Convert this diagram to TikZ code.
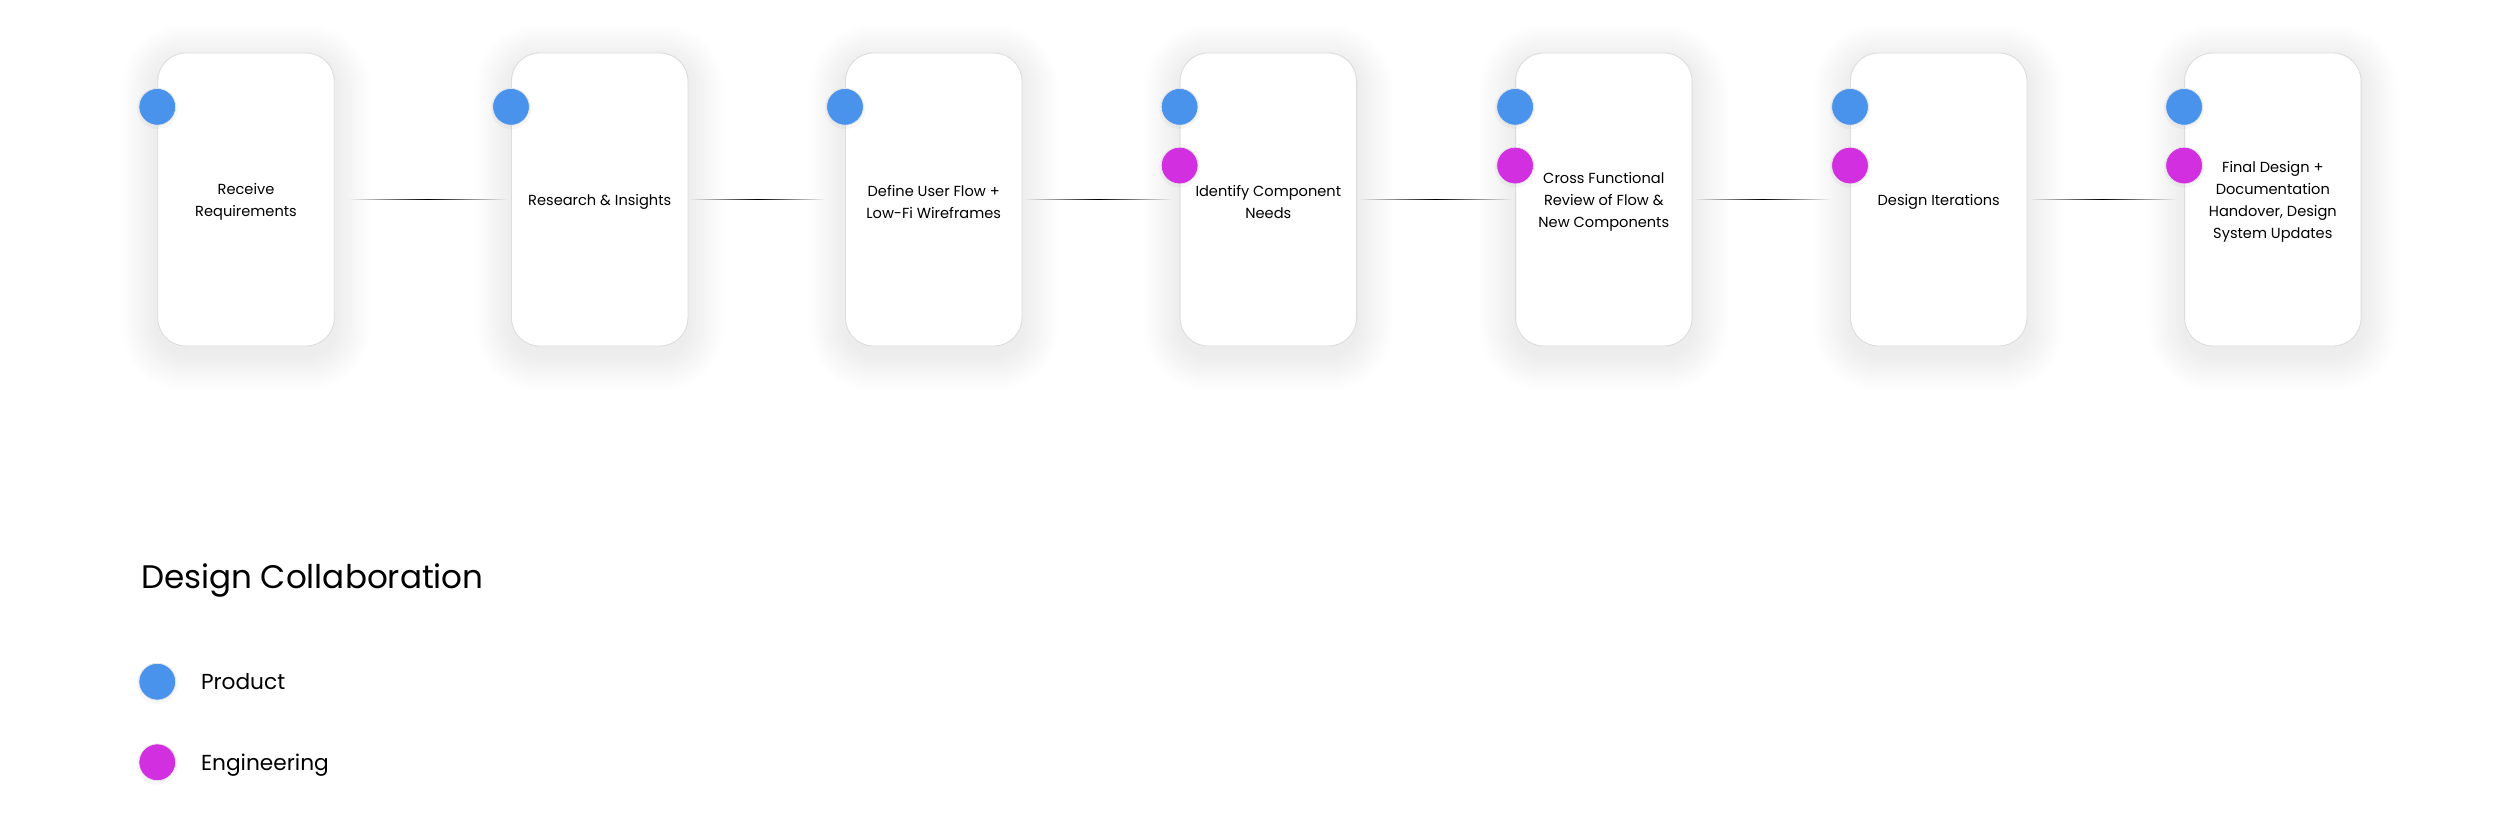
\documentclass[tikz,border=0pt]{standalone}
\usepackage{fontspec}
\setmainfont{Poppins}
\usetikzlibrary{calc,fadings}
\definecolor{prodblue}{HTML}{4A93EC}
\definecolor{engmag}{HTML}{D22FE0}
\definecolor{cardline}{HTML}{DCDCDC}
\pgfdeclarelayer{back}
\pgfdeclarelayer{shadowlayer}
\pgfsetlayers{back,shadowlayer,main}
\tikzfading[name=fadeends, left color=transparent!100, right color=transparent!100, middle color=transparent!0]
\tikzset{
  card/.style={rectangle, rounded corners=28pt, minimum width=176.5pt, minimum height=293pt,
    fill=white, draw=cardline, line width=0.9pt, inner sep=0pt},
  cardtext/.style={align=center, inner sep=0pt, font=\fontsize{14.6}{22}\selectfont},
  dotbase/.style={circle, minimum size=36.7pt, inner sep=0pt, draw=black!9, line width=0.7pt},
  pdot/.style={dotbase, fill=prodblue},
  edot/.style={dotbase, fill=engmag},
  connector/.style={fill=black, path fading=fadeends},
  shadowpiece/.style={fill=black, opacity=0.0058},
  dotshadow/.style={fill=black, opacity=0.03},
  legendtext/.style={anchor=base west, inner sep=0pt, font=\fontsize{21.7}{26}\selectfont},
  titletext/.style={anchor=base west, inner sep=0pt, font=\fontsize{32.6}{40}\selectfont}
}
\begin{document}
\begin{tikzpicture}[x=1pt,y=-1pt]
\begin{pgfonlayer}{back}
\fill[white] (0,0) rectangle (2500,834);
\end{pgfonlayer}
\useasboundingbox (0,0) rectangle (2500,834);

\node[card] (c1) at (246,199.5) {};
\node[card] (c2) at (599.7,199.5) {};
\node[card] (c3) at (933.7,199.5) {};
\node[card] (c4) at (1268.3,199.5) {};
\node[card] (c5) at (1603.8,199.5) {};
\node[card] (c6) at (1938.7,199.5) {};
\node[card] (c7) at (2272.8,199.5) {};

\node[cardtext] (t1) at ($(c1.center)+(0,2)$) {Receive\\Requirements};
\node[cardtext] (t2) at ($(c2.center)+(0,2)$) {Research \& Insights};
\node[cardtext] (t3) at ($(c3.center)+(0,2)$) {Define User Flow +\\Low-Fi Wireframes};
\node[cardtext] (t4) at ($(c4.center)+(0,2)$) {Identify Component\\Needs};
\node[cardtext] (t5) at ($(c5.center)+(0,2)$) {Cross Functional\\Review of Flow \&\\New Components};
\node[cardtext] (t6) at ($(c6.center)+(0,2)$) {Design Iterations};
\node[cardtext] (t7) at ($(c7.center)+(0,2)$) {Final Design +\\Documentation\\Handover, Design\\System Updates};

\begin{pgfonlayer}{shadowlayer}
\foreach \i in {1,...,7}{
  \foreach \k in {1,...,18}{
    \fill[shadowpiece, rounded corners={28pt+2pt*\k}]
      ($(c\i.north west)+(-2*\k,-2*\k+8)$) rectangle ($(c\i.south east)+(2*\k,2*\k+8)$);
  }
}
\end{pgfonlayer}

\fill[connector] ($(c1.east)+(14,-0.9)$) rectangle ($(c2.west)+(-4,0.9)$);
\fill[connector] ($(c2.east)+(2,-0.9)$) rectangle ($(c3.west)+(-20,0.9)$);
\fill[connector] ($(c3.east)+(2,-0.9)$) rectangle ($(c4.west)+(-8,0.9)$);
\fill[connector] ($(c4.east)+(2,-0.9)$) rectangle ($(c5.west)+(-3,0.9)$);
\fill[connector] ($(c5.east)+(2,-0.9)$) rectangle ($(c6.west)+(-20,0.9)$);
\fill[connector] ($(c6.east)+(2,-0.9)$) rectangle ($(c7.west)+(-8,0.9)$);

\foreach \i in {1,...,7}{
  \fill[dotshadow] ($(c\i.north west)+(0,56)$) circle (20.5pt);
  \node[pdot] (p\i) at ($(c\i.north west)+(0,54.3)$) {};
}
\foreach \i in {4,...,7}{
  \fill[dotshadow] ($(c\i.north west)+(0,114.7)$) circle (20.5pt);
  \node[edot] (e\i) at ($(c\i.north west)+(0,113)$) {};
}

\node[titletext] (title) at (140.8,588.3) {Design Collaboration};
\fill[dotshadow] (157.3,683.4) circle (20.5pt);
\node[pdot] (lp) at (157.3,681.7) {};
\node[legendtext] (lpt) at (200.8,689.3) {Product};
\fill[dotshadow] (157.3,764) circle (20.5pt);
\node[edot] (le) at (157.3,762.3) {};
\node[legendtext] (let) at (200.8,770.3) {Engineering};
\end{tikzpicture}
\end{document}
